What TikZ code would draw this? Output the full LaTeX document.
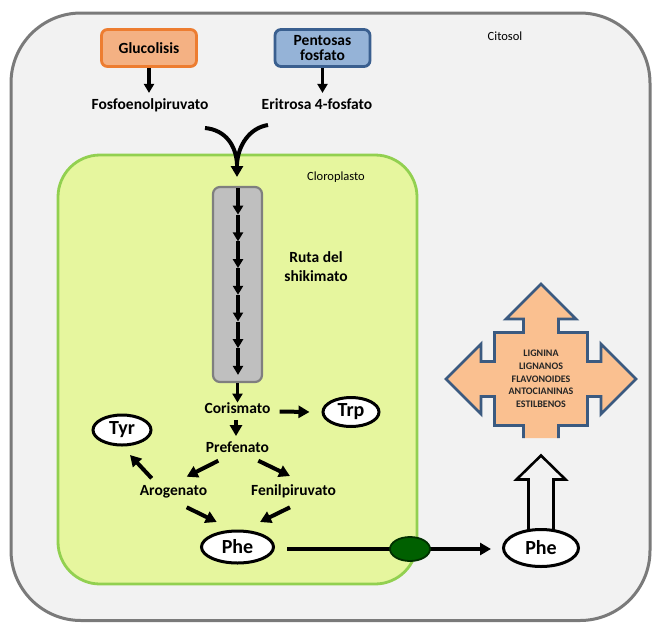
\documentclass[tikz,border=0pt]{standalone}
\usepackage{fontspec}
\setmainfont{Carlito}
\usetikzlibrary{arrows.meta,shapes.geometric,calc}
\definecolor{bg}{HTML}{F2F2F2}
\definecolor{outerD}{HTML}{7A7A7A}
\definecolor{cloroF}{RGB}{230,246,158}
\definecolor{cloroD}{RGB}{146,208,80}
\definecolor{gluF}{HTML}{F4B183}
\definecolor{gluD}{HTML}{ED7D31}
\definecolor{penF}{HTML}{95B3D7}
\definecolor{penD}{HTML}{3A5F8F}
\definecolor{crossF}{HTML}{FAC090}
\definecolor{crossD}{HTML}{3B5A80}
\definecolor{enzF}{HTML}{006000}
\definecolor{enzD}{HTML}{003000}
\definecolor{barF}{HTML}{BFBFBF}
\definecolor{barD}{HTML}{7F7F7F}
\newcommand\labfont{\fontsize{15.5}{15}\selectfont\bfseries}
\begin{document}
\begin{tikzpicture}[x=1pt,y=-1pt,
  lbl/.style={font=\labfont, inner sep=0pt, text height=11pt, text depth=3.5pt},
  small/.style={font=\fontsize{12.5}{13}\selectfont, inner sep=0pt},
  pbox/.style={rectangle, rounded corners=6pt, line width=2.8pt, minimum width=95pt, minimum height=37pt, inner sep=0pt, font=\labfont, align=center},
  aa/.style={line width=4pt, -{Triangle[width=12pt,length=11pt]}},
  ab/.style={line width=3.3pt, -{Triangle[width=10pt,length=9pt]}},
  oval/.style={ellipse, draw, line width=3pt, fill=white, inner sep=0pt, font=\fontsize{20}{20}\selectfont\bfseries}
]
\path[use as bounding box] (0,0) rectangle (654,622);
% cytosol
\draw[fill=bg, draw=outerD, line width=3pt, rounded corners=70pt] (11,13) rectangle (650,620.5);
% chloroplast
\draw[fill=cloroF, draw=cloroD, line width=2.8pt, rounded corners=42pt] (58,155) rectangle (417,584);
\node[small] (cit) at (505,36) {Citosol};
\node[small] (clo) at (336,177) {Cloroplasto};
% sources
\node[pbox, fill=gluF, draw=gluD] (glu) at (149,48) {Glucolisis};
\node[pbox, fill=penF, draw=penD, font=\fontsize{15.5}{15}\selectfont\bfseries] (pen) at (322.5,48) {Pentosas\\fosfato};
\draw[ab] (glu.south) -- ++(0,25);
\draw[ab] (pen.south) -- ++(0,25);
\node[lbl] (fos) at (150,106) {Fosfoenolpiruvato};
\node[lbl] (eri) at (317,106) {Eritrosa 4-fosfato};
% merging arrow
\coordinate (cl) at (205,128);
\coordinate (cr) at (268,125);
\coordinate (m) at (237,164);
\coordinate (mt) at (237,177);
\draw[line width=4pt] (cl) .. controls (226,130) and (236,146) .. (m);
\draw[line width=4pt] (cr) .. controls (249,128) and (238,146) .. (m);
\draw[line width=4pt, -{Triangle[width=12pt,length=11pt]}] (m) -- (mt);
% shikimate bar
\node[rectangle, rounded corners=7pt, fill=barF, draw=barD, line width=2.2pt, minimum width=49pt, minimum height=195pt, inner sep=0pt] (bar) at (237.5,284.5) {};
\foreach \i in {0,...,6} {
  \draw[ab] (238,{188+26.7*\i}) -- (238,{188+26.7*(\i+1)});
}
\node[font=\fontsize{15.5}{19}\selectfont\bfseries, align=center, inner sep=0pt] (ruta) at (316,267) {Ruta del\\shikimato};
\node[lbl] (cor) at (237.5,410) {Corismato};
\draw[ab] (bar.south) -- (cor.north);
\node[lbl] (pre) at (237.5,448.5) {Prefenato};
\node[lbl] (aro) at (173.5,492) {Arogenato};
\node[lbl] (fen) at (293.5,492) {Fenilpiruvato};
\node[oval, minimum width=56pt, minimum height=29pt] (trp) at (351,412) {Trp};
\node[oval, minimum width=58pt, minimum height=30pt] (tyr) at (122,430) {Tyr};
\node[oval, minimum width=72pt, minimum height=32pt] (phe1) at (237.5,547) {Phe};
\draw[aa] ($(cor.east)+(9,1.5)$) -- ($(trp.west)+(-12,0)$);
\draw[aa] ($(cor.south)+(-1.5,2.5)$) -- ($(pre.north)+(-1.5,-5)$);
\draw[aa] ($(pre)+(-19.2,12.2)$) -- ($(aro)+(13.2,-15.3)$);
\draw[aa] ($(pre)+(20.8,12.2)$) -- ($(fen)+(-3.5,-16)$);
\draw[aa] ($(aro)+(-21.8,-13.7)$) -- ($(tyr)+(8,25)$);
\draw[aa] ($(aro)+(13.2,15.3)$) -- ($(phe1)+(-20.8,-25)$);
\draw[aa] ($(fen)+(-3.5,15.3)$) -- ($(phe1)+(22.5,-25)$);
% hollow arrow (drawn under the exported Phe)
\coordinate (pn) at (541,529.5);
\draw[line width=2.6pt, fill=bg, line join=miter] ($(pn)+(-12.5,1.5)$) -- ($(pn)+(-12.5,-50)$) -- ($(pn)+(-24.5,-50)$) -- ($(pn)+(0,-74)$) -- ($(pn)+(24.5,-50)$) -- ($(pn)+(12.5,-50)$) -- ($(pn)+(12.5,1.5)$) -- cycle;
% export
\node[oval, minimum width=75pt, minimum height=37pt] (phe2) at (541,548) {Phe};
\draw[aa] ($(phe1.east)+(12,2)$) -- ($(phe2.west)+(-11,1)$);
\node[ellipse, fill=enzF, draw=enzD, line width=1.8pt, minimum width=40pt, minimum height=24pt, inner sep=0pt] (enz) at (410,549) {};
% quad arrow
\begin{scope}[shift={(541,379)}]
\fill[crossF] (0,-95) -- (35,-60) -- (17.5,-60) -- (17.5,-46.5) -- (46.5,-46.5) -- (46.5,-17.5) -- (60,-17.5) -- (60,-35) -- (95,0) -- (60,35) -- (60,17.5) -- (46.5,17.5) -- (46.5,46.5) -- (17.5,46.5) -- (17.5,59) -- (-17.5,59) -- (-17.5,46.5) -- (-46.5,46.5) -- (-46.5,17.5) -- (-60,17.5) -- (-60,35) -- (-95,0) -- (-60,-35) -- (-60,-17.5) -- (-46.5,-17.5) -- (-46.5,-46.5) -- (-17.5,-46.5) -- (-17.5,-60) -- (-35,-60) -- cycle;
\draw[crossD, line width=2.8pt, line join=miter] (17.5,59) -- (17.5,46.5) -- (46.5,46.5) -- (46.5,17.5) -- (60,17.5) -- (60,35) -- (95,0) -- (60,-35) -- (60,-17.5) -- (46.5,-17.5) -- (46.5,-46.5) -- (17.5,-46.5) -- (17.5,-60) -- (35,-60) -- (0,-95) -- (-35,-60) -- (-17.5,-60) -- (-17.5,-46.5) -- (-46.5,-46.5) -- (-46.5,-17.5) -- (-60,-17.5) -- (-60,-35) -- (-95,0) -- (-60,35) -- (-60,17.5) -- (-46.5,17.5) -- (-46.5,46.5) -- (-17.5,46.5) -- (-17.5,59);
\end{scope}
\node[font=\fontsize{10}{12.7}\selectfont\bfseries, align=center, inner sep=0pt, text=black!85] (prod) at (541,379) {LIGNINA\\LIGNANOS\\FLAVONOIDES\\ANTOCIANINAS\\ESTILBENOS};
\end{tikzpicture}
\end{document}
